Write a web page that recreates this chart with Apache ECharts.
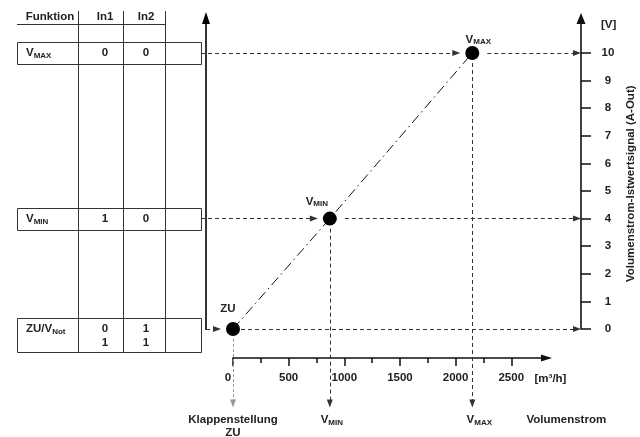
<!DOCTYPE html>
<html><head><meta charset="utf-8">
<script src="https://cdn.jsdelivr.net/npm/echarts@6/dist/echarts.min.js"></script>
<style>html,body{margin:0;padding:0;background:#fff}#c{width:640px;height:437px}</style>
</head><body><div id="c"></div>
<script>
// ---------------- data ----------------
const pointNames = ['ZU', 'V_MIN', 'V_MAX'];
const flowValues = [0, 870, 2150];          // m³/h
const signalValues = [0, 4, 10];            // V
const bottomLabels = ['Klappenstellung\nZU', 'V_MIN', 'V_MAX'];
const flowTicks = [0, 500, 1000, 1500, 2000, 2500];
const flowMinorTicks = [250, 750, 1250, 1750, 2250];
const signalTicks = [0, 1, 2, 3, 4, 5, 6, 7, 8, 9, 10];
const tableHeader = ['Funktion', 'In1', 'In2'];
const tableFunctions = ['V_MAX', 'V_MIN', 'ZU/V_Not'];
const tableIn1 = ['0', '1', '0\n1'];
const tableIn2 = ['0', '0', '1\n1'];
const tableRowSignal = [10, 4, 0];
const flowUnit = '[m³/h]';
const flowTitle = 'Volumenstrom';
const signalUnit = '[V]';
const signalTitle = 'Volumenstrom-Istwertsignal (A-Out)';

// ---------------- layout ----------------
const W = 640, H = 437;
const X0 = 233, KX = 0.1113;   // pixel of flow 0, px per m³/h
const Y0 = 329, KY = 27.6;     // pixel of 0 V, px per V
const xPx = v => X0 + v * KX, yPx = v => Y0 - v * KY;
const xVal = p => (p - X0) / KX, yVal = p => (Y0 - p) / KY;
const RIGHT_AXIS_PX = 581, XAXIS_PX = 358, XAXIS_END_PX = 546.5, YAXIS_END_PX = 18.5;
const LEFT_AXIS_PX = 206, LEFT_AXIS_TIP = 12;
const TABLE_L = 17, TABLE_R = 201, COLS = [78, 123, 165], HEAD_X = [50, 105, 146];
const VAL_X = [105, 146];
const DOWN_TIP_PX = 407;
const FF = '"Liberation Sans", Arial, Helvetica, sans-serif';
const TXT = '#222';
const FS = 11.5;
const LINE_C = '#333';

function rt(name) {
  return name.split('\n').map(l => {
    const k = l.indexOf('_');
    return k < 0 ? `{v|${l}}` : `{v|${l.slice(0, k)}}{s|${l.slice(k + 1)}}`;
  }).join('\n');
}
const RICH = {
  v: {fontFamily: FF, fontSize: FS, fontWeight: 'bold', color: TXT, fill: TXT, lineHeight: 13},
  s: {fontFamily: FF, fontSize: 8, fontWeight: 'bold', color: TXT, fill: TXT, lineHeight: 9, verticalAlign: 'bottom'}
};
const RICH_T = {
  v: Object.assign({}, RICH.v, {lineHeight: 14}),
  s: Object.assign({}, RICH.s, {lineHeight: 10})
};

// ---------------- table (graphic) ----------------
const g = [];
const gl = (x1, y1, x2, y2, w) => g.push({type: 'line', silent: true, z: 1,
  shape: {x1, y1, x2, y2}, style: {stroke: LINE_C, lineWidth: w || 1}});
const TABLE_TOP = 11, TABLE_BOTTOM = yPx(0) + 23;
tableHeader.forEach((h, i) => g.push({type: 'text', x: HEAD_X[i], y: 17, silent: true,
  style: {text: h, font: `bold ${FS}px ${FF}`, fill: TXT, align: 'center', verticalAlign: 'middle'}}));
gl(TABLE_L, 24.5, COLS[2], 24.5);
COLS.forEach(c => gl(c + 0.5, TABLE_TOP, c + 0.5, TABLE_BOTTOM));
tableFunctions.forEach((f, i) => {
  const ry = yPx(tableRowSignal[i]);
  const n = tableIn1[i].split('\n').length;
  const top = Math.round(ry - 11) + 0.5, bot = Math.round(ry + 11 + (n - 1) * 12) + 0.5;
  g.push({type: 'rect', silent: true, z: 1, shape: {x: TABLE_L + 0.5, y: top, width: TABLE_R - TABLE_L, height: bot - top},
    style: {fill: 'none', stroke: LINE_C, lineWidth: 1}});
  g.push({type: 'text', x: 26, y: ry - 7, silent: true,
    style: {text: rt(f), rich: RICH_T, font: `bold ${FS}px ${FF}`, fill: TXT, align: 'left', verticalAlign: 'top'}});
  [tableIn1[i], tableIn2[i]].forEach((t, j) => g.push({type: 'text', x: VAL_X[j], y: ry - 7, silent: true,
    style: {text: t, font: `bold ${FS}px ${FF}`, lineHeight: 14, fill: TXT, align: 'center', verticalAlign: 'top'}}));
});

// ---------------- marker lines ----------------
const dash = {color: LINE_C, width: 1, type: [4, 3]};
const ml = [];
// left vertical axis
ml.push([{coord: [xVal(LEFT_AXIS_PX), yVal(330)], lineStyle: {color: '#000', width: 1.6, type: 'solid'}},
         {coord: [xVal(LEFT_AXIS_PX), yVal(LEFT_AXIS_TIP + 6)], symbol: 'triangle', symbolSize: [8, 12]}]);
pointNames.forEach((n, i) => {
  const fx = flowValues[i], sy = signalValues[i];
  const startX = i === 0 ? xVal(LEFT_AXIS_PX) : xVal(TABLE_R);
  // from table / left axis into point
  ml.push([{coord: [startX, sy], lineStyle: dash}, {coord: [fx - 16 / KX, sy]}]);
  // from point to right axis
  ml.push([{coord: [fx + (i === 0 ? 8 : 15) / KX, sy], lineStyle: dash}, {coord: [xVal(RIGHT_AXIS_PX - 4), sy]}]);
  // down to flow label
  ml.push([{coord: [fx, sy - 10 / KY],
            lineStyle: i === 0 ? {color: '#999', width: 1, type: [3, 2]} : dash,
            label: {show: true, position: 'end', distance: 10, formatter: rt(bottomLabels[i]), rich: RICH,
                    offset: [[0, 0], [2, 0], [7, 0]][i]}},
           {coord: [fx, yVal(DOWN_TIP_PX - 3.5)]}]);
});

const pointLabelOffset = [[-5, -6.5], [-13, -3.5], [6, 0]];

const option = {
  animation: false,
  backgroundColor: '#fff',
  textStyle: {fontFamily: FF},
  graphic: g,
  grid: [
    {left: 0, top: 0, width: W, height: H, outerBoundsMode: 'none', containLabel: false},
    {left: X0, top: YAXIS_END_PX, width: RIGHT_AXIS_PX - X0, height: Y0 - YAXIS_END_PX, outerBoundsMode: 'none', containLabel: false},
    {left: X0, top: XAXIS_PX - 50, width: XAXIS_END_PX - X0, height: 50, outerBoundsMode: 'none', containLabel: false}
  ],
  xAxis: [
    {gridIndex: 0, type: 'value', show: false, min: xVal(0), max: xVal(W)},
    {gridIndex: 1, type: 'value', show: false, min: 0, max: xVal(RIGHT_AXIS_PX)},
    {gridIndex: 2, type: 'value', position: 'bottom', min: 0, max: xVal(XAXIS_END_PX), interval: 500,
     splitLine: {show: false},
     axisLine: {show: true, onZero: false, symbol: ['none', 'triangle'], symbolSize: [7, 11], lineStyle: {color: '#111', width: 1.6}},
     axisTick: {show: true, length: 8, customValues: flowTicks, lineStyle: {color: '#111', width: 1.5}},
     axisLabel: {customValues: flowTicks, margin: 14, color: TXT, fontWeight: 'bold', fontSize: FS, fontFamily: FF,
                 formatter: v => v === 0 ? '{z|0}' : String(v),
                 rich: {z: {padding: [0, 10, 0, 0], color: TXT, fontWeight: 'bold', fontSize: FS, fontFamily: FF}}}},
    {gridIndex: 2, type: 'value', position: 'bottom', min: 0, max: xVal(XAXIS_END_PX),
     splitLine: {show: false}, axisLine: {show: false, onZero: false}, axisLabel: {show: false},
     axisTick: {show: true, length: 5, customValues: flowMinorTicks, lineStyle: {color: '#111', width: 1.5}}},
    {gridIndex: 2, type: 'value', position: 'bottom', offset: 21, min: 0, max: xVal(XAXIS_END_PX),
     splitLine: {show: false}, axisLine: {show: false, onZero: false}, axisLabel: {show: false}, axisTick: {show: false},
     name: flowUnit, nameLocation: 'end', nameGap: -12,
     nameTextStyle: {align: 'left', verticalAlign: 'middle', color: TXT, fontWeight: 'bold', fontSize: FS, fontFamily: FF}},
    {gridIndex: 2, type: 'value', position: 'bottom', offset: 62, min: 0, max: xVal(XAXIS_END_PX),
     splitLine: {show: false}, axisLine: {show: false, onZero: false}, axisLabel: {show: false}, axisTick: {show: false},
     name: flowTitle, nameLocation: 'end', nameGap: -20,
     nameTextStyle: {align: 'left', verticalAlign: 'middle', color: TXT, fontWeight: 'bold', fontSize: FS, fontFamily: FF}}
  ],
  yAxis: [
    {gridIndex: 0, type: 'value', show: false, min: yVal(H), max: yVal(0)},
    {gridIndex: 1, type: 'value', position: 'right', min: 0, max: yVal(YAXIS_END_PX), interval: 1,
     splitLine: {show: false},
     axisLine: {show: true, onZero: false, symbol: ['none', 'triangle'], symbolSize: [9, 11], lineStyle: {color: '#111', width: 1.6}},
     axisTick: {show: true, length: 10, customValues: signalTicks, lineStyle: {color: '#111', width: 1.5}},
     axisLabel: {customValues: signalTicks, margin: 27, align: 'center', color: TXT, fontWeight: 'bold', fontSize: FS, fontFamily: FF},
     name: signalUnit, nameLocation: 'end', nameGap: -6,
     nameTextStyle: {align: 'left', verticalAlign: 'middle', padding: [0, 0, 0, 20], color: TXT, fontWeight: 'bold', fontSize: FS, fontFamily: FF}},
    {gridIndex: 1, type: 'value', position: 'right', min: 0, max: yVal(YAXIS_END_PX),
     splitLine: {show: false}, axisLine: {show: false, onZero: false}, axisTick: {show: false}, axisLabel: {show: false},
     name: signalTitle, nameLocation: 'middle', nameGap: 44,
     nameTextStyle: {padding: [0, 20, 0, 0], color: TXT, fontWeight: 'bold', fontSize: FS, fontFamily: FF}},
    {gridIndex: 2, type: 'value', show: false, min: 0, max: 1}
  ],
  series: [
    {
      type: 'line', xAxisIndex: 0, yAxisIndex: 0, silent: true, z: 3,
      data: flowValues.map((f, i) => [f, signalValues[i]]),
      symbol: 'none', lineStyle: {color: '#111', width: 1, type: [10, 4, 1.5, 4]},
      markLine: {silent: true, animation: false, symbol: ['none', 'triangle'], symbolSize: [6, 8],
                 label: {show: false}, emphasis: {disabled: true}, data: ml}
    },
    {
      type: 'scatter', xAxisIndex: 0, yAxisIndex: 0, silent: true, z: 5,
      symbolSize: 14, itemStyle: {color: '#000', opacity: 1},
      data: flowValues.map((f, i) => ({value: [f, signalValues[i]], label: {offset: pointLabelOffset[i]}})),
      label: {show: true, position: 'top', distance: 0, formatter: p => rt(pointNames[p.dataIndex]), rich: RICH}
    }
  ]
};
const chart = echarts.init(document.getElementById('c'), null, {renderer: 'canvas'});
chart.setOption(option);
</script></body></html>
